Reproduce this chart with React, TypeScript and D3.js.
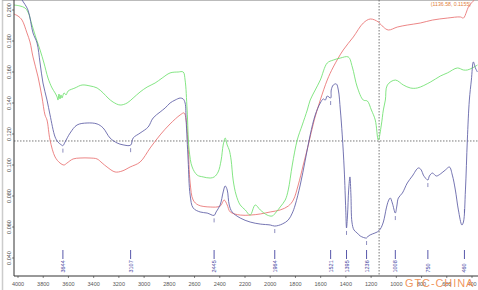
import React from "react";
import * as d3 from "d3";

type Pt = [number, number];

// Spectra: [wavenumber cm-1, absorbance]
const blueSpectrum: Pt[] = [
  [4000, 0.212], [3984, 0.209], [3968, 0.2065], [3921, 0.2], [3881, 0.1852], [3849, 0.1787],
  [3825, 0.1658], [3802, 0.1529], [3770, 0.1419], [3746, 0.1323], [3706, 0.1181], [3683, 0.1148],
  [3660, 0.1132], [3644, 0.1125], [3627, 0.1148], [3587, 0.1206], [3532, 0.1258], [3452, 0.1271],
  [3373, 0.1265], [3325, 0.1239], [3270, 0.1174], [3214, 0.1142], [3167, 0.113], [3107, 0.1128],
  [3087, 0.1174], [3032, 0.1206], [2968, 0.1245], [2929, 0.1303], [2873, 0.1342], [2833, 0.1368],
  [2794, 0.14], [2754, 0.1419], [2714, 0.1432], [2690, 0.1426], [2675, 0.14], [2667, 0.129],
  [2651, 0.1032], [2635, 0.0806], [2611, 0.0723], [2556, 0.0697], [2500, 0.069], [2445, 0.0675],
  [2429, 0.0697], [2397, 0.0742], [2373, 0.0826], [2357, 0.0865], [2341, 0.0839], [2325, 0.0742],
  [2302, 0.0697], [2238, 0.0658], [2159, 0.0632], [2079, 0.0619], [2000, 0.0613], [1964, 0.0606],
  [1905, 0.0619], [1857, 0.0645], [1825, 0.069], [1802, 0.0742], [1762, 0.0871], [1722, 0.1032],
  [1683, 0.1194], [1643, 0.1323], [1603, 0.14], [1579, 0.1426], [1563, 0.1419], [1548, 0.1445],
  [1521, 0.1432], [1516, 0.1484], [1500, 0.1516], [1476, 0.1523], [1460, 0.1484], [1444, 0.1355],
  [1429, 0.1194], [1413, 0.0968], [1401, 0.071], [1395, 0.0594], [1387, 0.0677], [1378, 0.0839],
  [1368, 0.0923], [1360, 0.0806], [1352, 0.0632], [1336, 0.0581], [1310, 0.0561], [1286, 0.0542],
  [1236, 0.0529], [1222, 0.0542], [1190, 0.0555], [1151, 0.0568], [1127, 0.0587], [1103, 0.0632],
  [1079, 0.0723], [1063, 0.0768], [1048, 0.0787], [1032, 0.0755], [1008, 0.069], [996, 0.0735],
  [984, 0.0787], [952, 0.0819], [913, 0.0884], [873, 0.0929], [825, 0.0981], [802, 0.0968],
  [786, 0.0935], [750, 0.0903], [738, 0.0929], [714, 0.0948], [683, 0.0929], [651, 0.0942],
  [611, 0.0968], [579, 0.0987], [556, 0.0935], [532, 0.0839], [508, 0.071], [480, 0.0613],
  [468, 0.0632], [452, 0.0839], [437, 0.1161], [421, 0.1419], [405, 0.1548], [389, 0.1665],
  [373, 0.1626], [357, 0.16],
];

const redSpectrum: Pt[] = [
  [4032, 0.1974], [4000, 0.1961], [3968, 0.1935], [3929, 0.1852], [3905, 0.1794], [3881, 0.1697],
  [3841, 0.1568], [3810, 0.1439], [3786, 0.1323], [3770, 0.129], [3746, 0.1161], [3706, 0.1052],
  [3667, 0.1013], [3635, 0.1], [3611, 0.1013], [3563, 0.1039], [3508, 0.1045], [3429, 0.1045],
  [3373, 0.1039], [3333, 0.1013], [3294, 0.0987], [3230, 0.0955], [3175, 0.0961], [3111, 0.0987],
  [3032, 0.1019], [2952, 0.111], [2873, 0.1194], [2794, 0.1265], [2714, 0.1323], [2683, 0.1336],
  [2667, 0.129], [2651, 0.1129], [2635, 0.0884], [2611, 0.0774], [2571, 0.0742], [2476, 0.0729],
  [2397, 0.0735], [2365, 0.0774], [2341, 0.0742], [2317, 0.0697], [2238, 0.0677], [2159, 0.0677],
  [2079, 0.0684], [2000, 0.0697], [1921, 0.071], [1857, 0.0735], [1817, 0.0774], [1778, 0.0871],
  [1738, 0.1], [1698, 0.1129], [1651, 0.129], [1603, 0.1419], [1548, 0.1548], [1500, 0.1632],
  [1421, 0.1742], [1341, 0.1826], [1262, 0.1916], [1206, 0.1942], [1143, 0.1923], [1103, 0.189],
  [1063, 0.1871], [992, 0.189], [913, 0.1903], [810, 0.1916], [714, 0.1935], [595, 0.1948],
  [492, 0.1955], [468, 0.1948], [444, 0.1987], [429, 0.2019], [397, 0.2052], [381, 0.2065],
];

const greenSpectrum: Pt[] = [
  [4032, 0.2032], [3984, 0.2026], [3944, 0.2013], [3921, 0.1987], [3889, 0.1903], [3857, 0.1819],
  [3825, 0.1742], [3794, 0.1658], [3762, 0.1561], [3730, 0.1497], [3706, 0.1465], [3690, 0.1439],
  [3683, 0.1419], [3675, 0.1458], [3667, 0.1426], [3659, 0.1452], [3651, 0.1432], [3635, 0.1465],
  [3619, 0.1452], [3603, 0.1477], [3548, 0.1497], [3492, 0.1516], [3429, 0.151], [3373, 0.1497],
  [3325, 0.1465], [3286, 0.1432], [3246, 0.1406], [3190, 0.1387], [3135, 0.14], [3087, 0.1432],
  [3032, 0.1471], [2976, 0.1503], [2913, 0.1529], [2857, 0.1561], [2794, 0.1594], [2730, 0.16],
  [2690, 0.16], [2675, 0.1548], [2659, 0.1355], [2643, 0.1097], [2619, 0.0987], [2579, 0.0935],
  [2532, 0.0923], [2476, 0.0916], [2444, 0.0923], [2413, 0.0955], [2389, 0.1032], [2373, 0.1129],
  [2357, 0.1174], [2341, 0.1129], [2325, 0.1097], [2310, 0.1032], [2294, 0.0903], [2270, 0.0806],
  [2238, 0.0742], [2198, 0.071], [2159, 0.0677], [2119, 0.0742], [2079, 0.071], [2024, 0.0677],
  [1984, 0.0671], [1952, 0.0697], [1921, 0.0729], [1881, 0.0774], [1857, 0.0839], [1825, 0.1],
  [1786, 0.1161], [1746, 0.1258], [1706, 0.1355], [1683, 0.1419], [1643, 0.1484], [1603, 0.1548],
  [1548, 0.1658], [1500, 0.1677], [1444, 0.169], [1381, 0.1697], [1349, 0.1632], [1310, 0.1503],
  [1262, 0.1419], [1230, 0.1413], [1198, 0.1355], [1167, 0.129], [1143, 0.1161], [1119, 0.1258],
  [1103, 0.1355], [1087, 0.1419], [1071, 0.1516], [1008, 0.1548], [944, 0.1516], [889, 0.1497],
  [833, 0.1497], [730, 0.1535], [651, 0.1574], [595, 0.1594], [516, 0.1626], [468, 0.1613],
  [437, 0.1613], [397, 0.1626], [357, 0.1645],
];

const xTicks = [4000, 3800, 3600, 3400, 3200, 3000, 2800, 2600, 2400, 2200, 2000, 1800, 1600, 1400, 1200, 1000, 800, 600, 400];
const yTicks = [0.2, 0.18, 0.16, 0.14, 0.12, 0.1, 0.08, 0.06, 0.04];
const peakLabels = [3644, 3107, 2445, 1964, 1521, 1395, 1236, 1008, 750, 460];
const cursorX = 1136.58;
const cursorY = 0.1155;
const watermark = "GTC-CHINA";

const W = 478;
const H = 290;
const plotLeft = 14;
const plotBottom = 276;

const xScale = d3.scaleLinear().domain([4000, 400]).range([18, 472]);
const yScale = d3.scaleLinear().domain([0.2, 0.04]).range([10, 258]);

const line = d3
  .line<Pt>()
  .x((d) => xScale(d[0]))
  .y((d) => yScale(d[1]))
  .curve(d3.curveCatmullRom.alpha(0.5));

function valueAt(data: Pt[], v: number): number {
  for (let i = 0; i < data.length - 1; i++) {
    const a = data[i];
    const b = data[i + 1];
    if ((a[0] >= v && b[0] <= v) || (a[0] <= v && b[0] >= v)) {
      const t = a[0] === b[0] ? 0 : (v - a[0]) / (b[0] - a[0]);
      return a[1] + t * (b[1] - a[1]);
    }
  }
  return data[data.length - 1][1];
}

const font = "'Liberation Sans', Arial, sans-serif";

export default function App() {
  const fmt = d3.format(".3f");
  return (
    <svg
      width={W}
      height={H}
      style={{ position: "absolute", left: 0, top: 0, background: "#fff" }}
      fontFamily={font}
    >
      <defs>
        <clipPath id="plotClip">
          <rect x={plotLeft} y={0} width={W - plotLeft} height={plotBottom} />
        </clipPath>
      </defs>
      <rect x={0} y={0} width={W} height={H} fill="#fff" />
      {/* outer frame */}
      <line x1={2.5} y1={0} x2={2.5} y2={H} stroke="#cccccc" strokeWidth={1.5} />
      <line x1={2} y1={0.5} x2={W} y2={0.5} stroke="#bbbbbb" strokeWidth={1} />

      {/* crosshair */}
      <line
        x1={xScale(cursorX)}
        x2={xScale(cursorX)}
        y1={0}
        y2={plotBottom}
        stroke="#555"
        strokeWidth={0.8}
        strokeDasharray="1.5,1.5"
      />
      <line
        x1={plotLeft}
        x2={W}
        y1={yScale(cursorY)}
        y2={yScale(cursorY)}
        stroke="#555"
        strokeWidth={0.8}
        strokeDasharray="1.5,1.5"
      />

      <g clipPath="url(#plotClip)" fill="none" strokeWidth={0.85}>
        <path d={line(redSpectrum) || ""} stroke="#e87070" />
        <path d={line(greenSpectrum) || ""} stroke="#6ee06e" />
        <path d={line(blueSpectrum) || ""} stroke="#5c5ca4" />
      </g>

      {/* axes */}
      <line x1={plotLeft} y1={0} x2={plotLeft} y2={plotBottom} stroke="#333" strokeWidth={1} />
      <line x1={plotLeft} y1={plotBottom} x2={W} y2={plotBottom} stroke="#333" strokeWidth={1} />

      {yTicks.map((t) => (
        <g key={"y" + t}>
          <line x1={plotLeft - 2} x2={plotLeft} y1={yScale(t)} y2={yScale(t)} stroke="#333" strokeWidth={0.6} />
          <text
            transform={`translate(10.5,${yScale(t)}) rotate(-90)`}
            textAnchor="middle"
            fontSize={5.5}
            fill="#444"
          >
            {fmt(t)}
          </text>
        </g>
      ))}

      {xTicks.map((t) => (
        <g key={"x" + t}>
          <line x1={xScale(t)} x2={xScale(t)} y1={plotBottom} y2={plotBottom + 2} stroke="#333" strokeWidth={0.6} />
          <text x={xScale(t)} y={285.5} textAnchor="middle" fontSize={5.5} fill="#555">
            {t}
          </text>
        </g>
      ))}

      {/* peak annotations */}
      {peakLabels.map((p) => {
        const px = xScale(p);
        const vy = yScale(valueAt(blueSpectrum, p));
        return (
          <g key={"p" + p}>
            <line x1={px} x2={px} y1={vy + 3} y2={vy + 7} stroke="#5c5ca4" strokeWidth={0.7} />
            <line x1={px} x2={px} y1={250} y2={259} stroke="#4444a0" strokeWidth={0.9} />
            <text
              transform={`translate(${px + 2},272.5) rotate(-90)`}
              textAnchor="start"
              fontSize={5.5}
              fill="#4444a0"
            >
              {p}
            </text>
          </g>
        );
      })}

      {/* cursor readout */}
      <text x={471} y={6} textAnchor="end" fontSize={5.2} fill="#e0803a">
        {`(${cursorX.toFixed(2)}, ${cursorY.toFixed(4)})`}
      </text>

      {/* watermark */}
      <text x={405} y={287} fontSize={11} fill="#f08a4c" fillOpacity={0.9} letterSpacing={0.9} fontFamily={font}>
        {watermark}
      </text>
    </svg>
  );
}
